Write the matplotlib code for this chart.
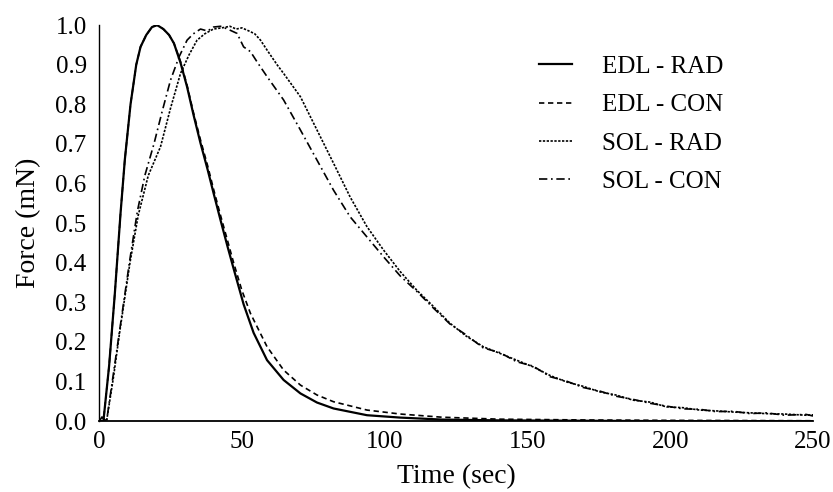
import numpy as np
import matplotlib
matplotlib.use("Agg")
import matplotlib.pyplot as plt

plt.rcParams['font.family'] = ['Liberation Serif', 'DejaVu Serif']

# EDL - RAD (solid)
t_edl_rad = [0, 1.5, 3.5, 5.5, 7.5, 9, 11, 13, 14.5, 16.5, 18.5, 20.3, 22.5, 24.5, 26.2,
             28.5, 30.8, 33, 35.5, 38, 40.1, 42.5, 45, 47.1, 50.6, 54.1, 58.8, 64.6,
             70.5, 76.3, 82.1, 93.8, 105.4, 120, 140, 170, 200, 250]
y_edl_rad = [0, 0, 0.14, 0.322, 0.525, 0.66, 0.80, 0.90, 0.945, 0.975, 0.995, 1.0, 0.99,
             0.975, 0.954, 0.905, 0.844, 0.775, 0.702, 0.635, 0.575, 0.508, 0.44, 0.385,
             0.295, 0.223, 0.154, 0.104, 0.07, 0.047, 0.032, 0.015, 0.009, 0.004, 0.002,
             0.001, 0.0, 0.0]

# EDL - CON (dashed)
t_edl_con = [0, 1.5, 3.5, 5.5, 7.5, 9, 11, 13, 14.5, 16.5, 18.5, 20.3, 22.5, 24.5, 26.2,
             28.5, 30.8, 33, 35.5, 38, 40.1, 42.5, 45, 47.1, 50, 53, 58.8, 64.6, 70.5,
             76.3, 82.1, 93.8, 105.4, 120, 140, 170, 200, 250]
y_edl_con = [0, 0, 0.14, 0.322, 0.525, 0.66, 0.80, 0.90, 0.945, 0.975, 0.995, 1.0, 0.99,
             0.975, 0.954, 0.908, 0.848, 0.78, 0.71, 0.645, 0.585, 0.52, 0.455, 0.40,
             0.33, 0.272, 0.188, 0.129, 0.091, 0.066, 0.049, 0.028, 0.018, 0.010, 0.005,
             0.003, 0.002, 0.001]

# SOL - RAD (fine dotted)
t_sol_rad = [0, 1, 2.6, 5, 7.3, 10.8, 13.7, 17.2, 21.5, 25, 28.5, 31.5, 34.3, 37, 40,
             43, 45.8, 48, 50, 52.5, 54.5, 56.5, 58.8, 62.3, 64.6, 70.5, 76.3, 82.1,
             87.9, 93.8, 99.6, 105.4, 111.2, 117, 122.9, 128.5, 134.5, 140.4, 146.2,
             152, 158, 163.7, 169.5, 175.3, 181, 187, 193, 198.7, 204.5, 210.3, 216,
             222, 228, 233.6, 240, 247.6, 250]
y_sol_rad = [0, 0.01, 0, 0.11, 0.23, 0.40, 0.52, 0.62, 0.693, 0.79, 0.878, 0.925, 0.962,
             0.978, 0.99, 0.993, 0.997, 0.99, 0.993, 0.985, 0.978, 0.962, 0.937, 0.9,
             0.878, 0.819, 0.735, 0.651, 0.566, 0.491, 0.432, 0.378, 0.331, 0.29,
             0.247, 0.215, 0.188, 0.171, 0.154, 0.137, 0.115, 0.099, 0.088, 0.074,
             0.066, 0.053, 0.048, 0.036, 0.034, 0.028, 0.026, 0.023, 0.021, 0.019,
             0.018, 0.015, 0.016]

# SOL - CON (dash-dot)
t_sol_con = [0, 1, 2.6, 5, 7.3, 10.8, 13.4, 16, 19.2, 22, 25, 28, 30.8, 33, 35.5, 38,
             40, 42.5, 45, 48.3, 50.6, 53, 55.5, 58.8, 64.6, 70.5, 76.3, 82.1, 87.9,
             93.8, 99.6, 105.4, 111.2, 117, 122.9, 128.5, 134.5, 140.4, 146.2, 152,
             158, 163.7, 169.5, 175.3, 181, 187, 193, 198.7, 204.5, 210.3, 216, 222,
             228, 233.6, 240, 247.6, 250]
y_sol_con = [0, 0.01, 0, 0.12, 0.235, 0.41, 0.53, 0.62, 0.70, 0.78, 0.861, 0.92, 0.962,
             0.978, 0.99, 0.985, 0.995, 0.997, 0.99, 0.979, 0.945, 0.933, 0.905, 0.87,
             0.811, 0.735, 0.659, 0.583, 0.516, 0.465, 0.415, 0.367, 0.328, 0.286,
             0.245, 0.218, 0.185, 0.173, 0.15, 0.139, 0.112, 0.101, 0.085, 0.076,
             0.063, 0.055, 0.045, 0.038, 0.031, 0.03, 0.024, 0.025, 0.019, 0.021,
             0.015, 0.017, 0.013]

x_ticks = [0, 50, 100, 150, 200, 250]
y_ticks = [0.0, 0.1, 0.2, 0.3, 0.4, 0.5, 0.6, 0.7, 0.8, 0.9, 1.0]

fig = plt.figure(figsize=(8.33, 4.92), dpi=100)
ax = fig.add_axes([0.119, 0.144, 0.857, 0.805])

ax.plot(t_edl_rad, y_edl_rad, color='black', lw=1.6, linestyle='-', label='EDL - RAD')
ax.plot(t_edl_con, y_edl_con, color='black', lw=1.2, linestyle=(0, (3.2, 2.2)), label='EDL - CON')
ax.plot(t_sol_rad, y_sol_rad, color='black', lw=1.2, linestyle=(0, (1.4, 0.9)), label='SOL - RAD')
ax.plot(t_sol_con, y_sol_con, color='black', lw=1.2, linestyle=(0, (5, 2.2, 1, 2.2)), label='SOL - CON')

ax.set_xlim(0, 250)
ax.set_ylim(0, 1.0)
ax.set_xticks(x_ticks)
ax.set_yticks(y_ticks)
ax.set_yticklabels([f'{v:.1f}' for v in y_ticks])
ax.tick_params(length=0, labelsize=18)
ax.tick_params(axis='x', pad=7)
ax.tick_params(axis='y', pad=9)

ax.spines['top'].set_visible(False)
ax.spines['right'].set_visible(False)
ax.spines['left'].set_linewidth(1.0)
ax.spines['bottom'].set_linewidth(1.3)

ax.set_xlabel('Time (sec)', fontsize=20, labelpad=8)
ax.set_ylabel('Force (mN)', fontsize=20, labelpad=10)

ax.legend(loc='upper left', bbox_to_anchor=(0.585, 0.98), frameon=False, fontsize=18,
          handlelength=1.3, handletextpad=1.2, labelspacing=0.63)

fig.savefig('out.png', dpi=100)
